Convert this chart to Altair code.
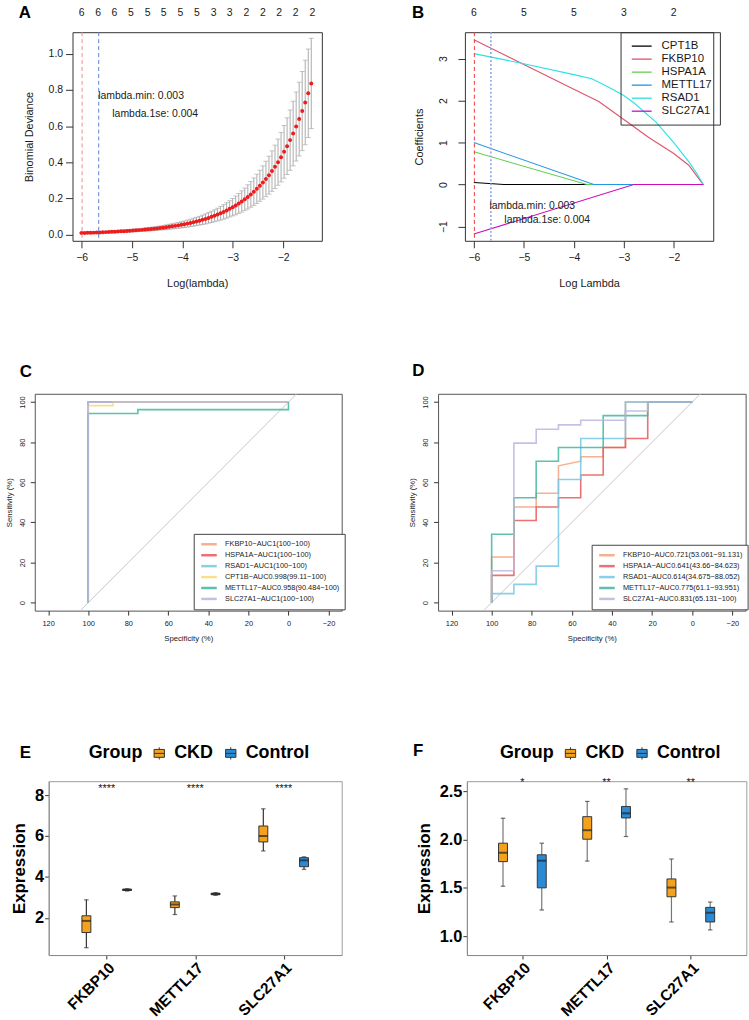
import altair as alt
import pandas as pd

FONT = "Liberation Sans"
INK = "#1a1a1a"

# ---------------- Panel A: cross-validated binomial deviance ----------------
cv_log_lambda = [
    -6.00, -5.94, -5.88, -5.82, -5.76, -5.70, -5.64, -5.58, -5.52, -5.46,
    -5.40, -5.34, -5.28, -5.22, -5.16, -5.10, -5.04, -4.98, -4.92, -4.86,
    -4.80, -4.74, -4.68, -4.62, -4.56, -4.50, -4.44, -4.38, -4.32, -4.26,
    -4.20, -4.14, -4.08, -4.02, -3.96, -3.90, -3.84, -3.78, -3.72, -3.66,
    -3.60, -3.54, -3.48, -3.42, -3.36, -3.30, -3.24, -3.18, -3.12, -3.06,
    -3.00, -2.94, -2.88, -2.82, -2.76, -2.70, -2.64, -2.58, -2.52, -2.46,
    -2.40, -2.34, -2.28, -2.22, -2.16, -2.10, -2.04, -1.98, -1.92, -1.86,
    -1.80, -1.74, -1.68, -1.62, -1.56, -1.50, -1.44,
]
cv_deviance = [
    0.0080, 0.0086, 0.0091, 0.0097, 0.0103, 0.0110, 0.0116, 0.0124, 0.0131, 0.0139,
    0.0147, 0.0155, 0.0164, 0.0174, 0.0184, 0.0194, 0.0205, 0.0217, 0.0229, 0.0242,
    0.0256, 0.0271, 0.0286, 0.0302, 0.0320, 0.0338, 0.0358, 0.0379, 0.0401, 0.0425,
    0.0450, 0.0477, 0.0505, 0.0535, 0.0568, 0.0602, 0.0639, 0.0678, 0.0720, 0.0765,
    0.0812, 0.0863, 0.0918, 0.0976, 0.1038, 0.1104, 0.1175, 0.1251, 0.1332, 0.1419,
    0.1512, 0.1611, 0.1717, 0.1830, 0.1952, 0.2081, 0.2220, 0.2369, 0.2528, 0.2699,
    0.2881, 0.3076, 0.3286, 0.3510, 0.3749, 0.4005, 0.4280, 0.4575, 0.4891, 0.5225,
    0.5589, 0.5978, 0.6389, 0.6834, 0.7310, 0.7819, 0.8364,
]
cv_se = [
    0.003, 0.003, 0.003, 0.003, 0.003, 0.004, 0.004, 0.004, 0.004, 0.004,
    0.005, 0.005, 0.005, 0.006, 0.006, 0.006, 0.007, 0.007, 0.007, 0.008,
    0.008, 0.009, 0.009, 0.010, 0.010, 0.011, 0.011, 0.012, 0.013, 0.014,
    0.014, 0.015, 0.016, 0.017, 0.018, 0.019, 0.020, 0.022, 0.023, 0.024,
    0.026, 0.028, 0.029, 0.031, 0.033, 0.035, 0.038, 0.040, 0.043, 0.045,
    0.048, 0.052, 0.055, 0.059, 0.062, 0.067, 0.071, 0.076, 0.081, 0.086,
    0.092, 0.098, 0.105, 0.112, 0.120, 0.128, 0.137, 0.146, 0.157, 0.167,
    0.179, 0.191, 0.204, 0.219, 0.234, 0.245, 0.250,
]
a_count_pos = [-6.00, -5.67, -5.35, -5.02, -4.69, -4.37, -4.04, -3.71,
               -3.38, -3.06, -2.73, -2.40, -2.08, -1.75, -1.42]
a_counts = [6, 6, 6, 5, 5, 5, 5, 5, 3, 3, 2, 2, 2, 2, 2]
a_lambda_min, a_lambda_1se = -5.99, -5.66
a_note_text = ["lambda.min: 0.003", "lambda.1se: 0.004"]
a_note_x = [-5.67, -5.39]
a_note_y = [0.769, 0.667]

# ---------------- Panel B: LASSO coefficient paths ----------------
b_genes = ["CPT1B", "FKBP10", "HSPA1A", "METTL17", "RSAD1", "SLC27A1"]
b_colors = ["#000000", "#DF536B", "#61D04F", "#2297E6", "#28E2E5", "#CD0BBC"]
cpt1b_x = [-6.0, -5.4, -1.41]
cpt1b_coef = [0.05, 0.0, 0.0]
fkbp10_x = [-6.0, -5.0, -4.0, -3.5, -3.0, -2.5, -2.0, -1.7, -1.41]
fkbp10_coef = [3.45, 2.86, 2.27, 1.98, 1.55, 1.12, 0.74, 0.46, 0.0]
hspa1a_x = [-6.0, -3.74, -1.41]
hspa1a_coef = [0.78, 0.0, 0.0]
mettl17_x = [-6.0, -3.6, -1.41]
mettl17_coef = [1.0, 0.0, 0.0]
rsad1_x = [-6.0, -5.0, -4.0, -3.64, -3.3, -3.0, -2.8, -2.35, -2.0, -1.69, -1.53, -1.41]
rsad1_coef = [3.12, 2.88, 2.62, 2.52, 2.32, 2.12, 1.95, 1.48, 1.0, 0.53, 0.25, 0.0]
slc27a1_x = [-6.0, -2.8, -1.41]
slc27a1_coef = [-1.18, 0.0, 0.0]
b_count_pos = [-6, -5, -4, -3, -2]
b_counts = [6, 5, 5, 3, 2]
b_note_x = [-5.69, -5.39]
b_note_y = [-0.51, -0.85]

# ---------------- Panels C/D: ROC curves ----------------
roc_color_genes = ["FKBP10", "HSPA1A", "RSAD1", "CPT1B", "METTL17", "SLC27A1"]
roc_colors = ["#F3A37E", "#E8585A", "#74C7E5", "#F8D977", "#3FB79C", "#BBB6DF"]

c_genes = ["FKBP10", "HSPA1A", "RSAD1", "CPT1B", "METTL17", "SLC27A1"]
c_labels = ["FKBP10−AUC1(100−100)", "HSPA1A−AUC1(100−100)", "RSAD1−AUC1(100−100)",
            "CPT1B−AUC0.998(99.11−100)", "METTL17−AUC0.958(90.484−100)",
            "SLC27A1−AUC1(100−100)"]
c_fkbp10_spec = [100, 100, 0]
c_fkbp10_sens = [0, 100, 100]
c_hspa1a_spec = [100, 100, 0]
c_hspa1a_sens = [0, 100, 100]
c_rsad1_spec = [100, 100, 0]
c_rsad1_sens = [0, 100, 100]
c_cpt1b_spec = [100, 100, 87.6, 87.6, 0]
c_cpt1b_sens = [0, 98.2, 98.2, 100, 100]
c_mettl17_spec = [100, 100, 75.2, 75.2, 0, 0]
c_mettl17_sens = [0, 94.3, 94.3, 96.2, 96.2, 100]
c_slc27a1_spec = [100, 100, 0]
c_slc27a1_sens = [0, 100, 100]

d_genes = ["FKBP10", "HSPA1A", "RSAD1", "METTL17", "SLC27A1"]
d_labels = ["FKBP10−AUC0.721(53.061−91.131)", "HSPA1A−AUC0.641(43.66−84.623)",
            "RSAD1−AUC0.614(34.675−88.052)", "METTL17−AUC0.775(61.1−93.951)",
            "SLC27A1−AUC0.831(65.131−100)"]
d_fkbp10_spec = [100, 100, 88.9, 88.9, 77.8, 77.8, 66.7, 66.7, 55.6, 55.6, 44.4, 44.4, 33.3, 33.3, 0]
d_fkbp10_sens = [0, 22.7, 22.7, 47.7, 47.7, 54.5, 54.5, 68.2, 70.5, 72.7, 72.7, 77.3, 77.3, 100, 100]
d_hspa1a_spec = [100, 100, 88.9, 88.9, 77.8, 77.8, 66.7, 66.7, 55.6, 55.6, 44.4, 44.4, 33.3, 33.3, 22.2, 22.2, 0]
d_hspa1a_sens = [0, 13.6, 13.6, 40.9, 40.9, 47.7, 47.7, 52.3, 52.3, 63.6, 63.6, 77.3, 77.3, 81.8, 81.8, 100, 100]
d_rsad1_spec = [100, 100, 88.9, 88.9, 77.8, 77.8, 66.7, 66.7, 55.6, 55.6, 33.3, 33.3, 0]
d_rsad1_sens = [0, 4.5, 4.5, 9.1, 9.1, 18.2, 18.2, 61.4, 61.4, 81.8, 81.8, 100, 100]
d_mettl17_spec = [100, 100, 88.9, 88.9, 77.8, 77.8, 66.7, 66.7, 44.4, 44.4, 22.2, 22.2, 0]
d_mettl17_sens = [0, 34.1, 34.1, 52.3, 52.3, 70.5, 70.5, 77.3, 77.3, 93.2, 93.2, 100, 100]
d_slc27a1_spec = [100, 100, 88.9, 88.9, 77.8, 77.8, 66.7, 66.7, 55.6, 55.6, 33.3, 33.3, 22.2, 22.2, 0]
d_slc27a1_sens = [0, 15.9, 15.9, 79.5, 79.5, 86.4, 86.4, 88.6, 88.6, 90.9, 90.9, 95.5, 95.5, 100, 100]
roc_diag_spec = [110, -10]
roc_diag_sens = [-10, 110]

# ---------------- Panels E/F: expression box plots ----------------
box_genes = ["FKBP10", "METTL17", "SLC27A1"]
box_groups = ["CKD", "Control"]
box_colors = ["#F4A21D", "#2A8BD4"]
# whisker low, Q1, median, Q3, whisker high (one value per gene)
e_ckd_low = [0.54, 2.16, 5.27]
e_ckd_q1 = [1.28, 2.50, 5.71]
e_ckd_med = [1.85, 2.65, 6.00]
e_ckd_q3 = [2.10, 2.78, 6.49]
e_ckd_high = [2.88, 3.07, 7.33]
e_ctl_low = [3.31, 3.10, 4.37]
e_ctl_q1 = [3.34, 3.13, 4.50]
e_ctl_med = [3.37, 3.17, 4.81]
e_ctl_q3 = [3.40, 3.20, 4.94]
e_ctl_high = [3.42, 3.23, 4.98]
e_signif = ["****", "****", "****"]
e_signif_y = 8.28

f_ckd_low = [1.517, 1.777, 1.147]
f_ckd_q1 = [1.771, 2.003, 1.408]
f_ckd_med = [1.863, 2.096, 1.503]
f_ckd_q3 = [1.962, 2.236, 1.592]
f_ckd_high = [2.220, 2.394, 1.798]
f_ctl_low = [1.271, 2.031, 1.065]
f_ctl_q1 = [1.500, 2.223, 1.147]
f_ctl_med = [1.781, 2.271, 1.243]
f_ctl_q3 = [1.842, 2.342, 1.298]
f_ctl_high = [1.962, 2.524, 1.353]
f_signif = ["*", "**", "**"]
f_signif_y = 2.58


# ---------------- helpers ----------------
ONE = pd.DataFrame({"t": ["."]})


def letter(text, x, y):
    """Bold panel tag placed relative to the panel's plot area."""
    return alt.Chart(pd.DataFrame({"t": [text]})).mark_text(
        align="left", baseline="alphabetic", font=FONT, fontSize=17,
        fontWeight="bold", color="#000000").encode(
        x=alt.value(x), y=alt.value(y), text="t:N")


def anchor(y, baseline):
    """Invisible 1px text that pins a row's vertical extent."""
    return alt.Chart(ONE).mark_text(opacity=0, fontSize=1, baseline=baseline).encode(
        x=alt.value(0), y=alt.value(y), text="t:N")


def r_axis(title, values, label_size, title_size, tick, label_pad, title_pad,
           fmt=None, rotate=False):
    kw = dict(title=title, values=values, grid=False, domain=False, ticks=True,
              tickSize=tick, tickColor="#333333", tickWidth=1,
              labelFont=FONT, labelFontSize=label_size, labelColor=INK,
              labelPadding=label_pad, titleFont=FONT, titleFontSize=title_size,
              titleFontWeight="normal", titleColor=INK, titlePadding=title_pad)
    if fmt:
        kw["format"] = fmt
    if rotate:
        kw.update(labelAngle=-90, labelAlign="center", labelBaseline="bottom")
    else:
        kw.update(labelAngle=0)
    return alt.Axis(**kw)


def path_frame(genes, xs, ys, xname, yname):
    rows = []
    for g, xv, yv in zip(genes, xs, ys):
        for i, (a, b) in enumerate(zip(xv, yv)):
            rows.append({"gene": g, xname: a, yname: b, "step": i})
    return pd.DataFrame(rows)


def spacer(w, h=1):
    return (alt.Chart(ONE)
            .mark_point(opacity=0)
            .encode(x=alt.value(0), y=alt.value(0))
            .properties(width=w, height=h,
                        view=alt.ViewBackground(stroke="transparent", strokeWidth=0)))


FRAME_R = alt.ViewBackground(stroke="#333333", strokeWidth=1)

# ---------------- A ----------------
a_x_axis = r_axis("Log(lambda)", [-6, -5, -4, -3, -2], 10.5, 11, 7, 5, 14)
a_y_axis = r_axis("Binomial Deviance", [0, 0.2, 0.4, 0.6, 0.8, 1.0], 10.5, 11, 7, 3, 14, fmt=".1f")
a_xs = alt.Scale(domain=[-6.18, -1.23], nice=False, zero=False)
a_ys = alt.Scale(domain=[-0.035, 1.12], nice=False, zero=False)


def ax(field="loglam"):
    return alt.X(f"{field}:Q", scale=a_xs, axis=a_x_axis)


def ay(field):
    return alt.Y(f"{field}:Q", scale=a_ys, axis=a_y_axis)


cv_df = pd.DataFrame({"loglam": cv_log_lambda, "dev": cv_deviance, "se": cv_se})
cv_base = alt.Chart(cv_df).transform_calculate(
    lo="datum.dev - datum.se", hi="datum.dev + datum.se")
a_bars = cv_base.mark_rule(color="#ABABAB", strokeWidth=1).encode(x=ax(), y=ay("lo"), y2="hi:Q")
a_cap_lo = cv_base.mark_tick(orient="horizontal", size=5, thickness=1, color="#ABABAB").encode(x=ax(), y=ay("lo"))
a_cap_hi = cv_base.mark_tick(orient="horizontal", size=5, thickness=1, color="#ABABAB").encode(x=ax(), y=ay("hi"))
a_pts = alt.Chart(cv_df).mark_circle(size=16, color="#EE1C1C", opacity=1).encode(x=ax(), y=ay("dev"))
a_vmin = alt.Chart(pd.DataFrame({"loglam": [a_lambda_min]})).mark_rule(
    color="#F08C8C", strokeDash=[4, 3], strokeWidth=1).encode(x=ax())
a_v1se = alt.Chart(pd.DataFrame({"loglam": [a_lambda_1se]})).mark_rule(
    color="#5B84D6", strokeDash=[4, 3], strokeWidth=1).encode(x=ax())
a_notes = alt.Chart(pd.DataFrame({"loglam": a_note_x, "y": a_note_y, "t": a_note_text})).mark_text(
    align="left", baseline="middle", font=FONT, fontSize=10.5, color=INK).encode(x=ax(), y=ay("y"), text="t:N")
a_top = alt.Chart(pd.DataFrame({"loglam": a_count_pos, "n": a_counts})).mark_text(
    baseline="middle", font=FONT, fontSize=10.5, color=INK).encode(x=ax(), y=alt.value(-19.5), text="n:N")
chart_a = alt.layer(a_bars, a_cap_lo, a_cap_hi, a_pts, a_vmin, a_v1se, a_notes, a_top,
                    letter("A", -54, -14), anchor(-24.5, "top"), anchor(326.9, "bottom")).properties(
    width=251, height=210, view=FRAME_R)

# ---------------- B ----------------
b_x_axis = r_axis("Log Lambda", [-6, -5, -4, -3, -2], 10.5, 11, 7, 5, 14)
b_y_axis = r_axis("Coefficients", [-1, 0, 1, 2, 3], 10.5, 11, 7, 10, 14, rotate=True)
b_xs = alt.Scale(domain=[-6.18, -1.21], nice=False, zero=False)
b_ys = alt.Scale(domain=[-1.34, 3.63], nice=False, zero=False)
b_color = alt.Scale(domain=b_genes, range=b_colors)
b_legend = alt.Legend(title=None, orient="none", legendX=156.7, legendY=0, direction="vertical",
                      symbolType="M-2,0H2", symbolSize=100, symbolStrokeWidth=1.3,
                      labelFont=FONT, labelFontSize=11.5, labelColor=INK, labelOffset=14,
                      symbolOffset=7.3, padding=8, rowPadding=1.1, strokeColor="#333333")


def bx(field="loglam"):
    return alt.X(f"{field}:Q", scale=b_xs, axis=b_x_axis)


def by(field):
    return alt.Y(f"{field}:Q", scale=b_ys, axis=b_y_axis)


b_df = path_frame(b_genes,
                  [cpt1b_x, fkbp10_x, hspa1a_x, mettl17_x, rsad1_x, slc27a1_x],
                  [cpt1b_coef, fkbp10_coef, hspa1a_coef, mettl17_coef, rsad1_coef, slc27a1_coef],
                  "loglam", "coef")
b_lines = [
    alt.Chart(b_df).transform_filter(alt.datum.gene == g).mark_line(strokeWidth=1.1).encode(
        x=bx(), y=by("coef"), order="step:Q",
        color=alt.Color("gene:N", scale=b_color, legend=b_legend))
    for g in b_genes
]
b_vmin = alt.Chart(pd.DataFrame({"loglam": [-5.99]})).mark_rule(
    color="#EE3B3B", strokeDash=[4, 3], strokeWidth=1).encode(x=bx())
b_v1se = alt.Chart(pd.DataFrame({"loglam": [-5.66]})).mark_rule(
    color="#8FA6E6", strokeDash=[2, 2], strokeWidth=1.6).encode(x=bx())
b_notes = alt.Chart(pd.DataFrame({"loglam": b_note_x, "y": b_note_y, "t": a_note_text})).mark_text(
    align="left", baseline="middle", font=FONT, fontSize=10.5, color=INK).encode(x=bx(), y=by("y"), text="t:N")
b_top = alt.Chart(pd.DataFrame({"loglam": b_count_pos, "n": b_counts})).mark_text(
    baseline="middle", font=FONT, fontSize=10.5, color=INK).encode(x=bx(), y=alt.value(-19.2), text="n:N")
chart_b = alt.layer(*b_lines, b_vmin, b_v1se, b_notes, b_top, letter("B", -53.3, -14)).properties(
    width=250, height=210, view=FRAME_R)

# ---------------- C / D ----------------
roc_x_axis = r_axis("Specificity (%)", [120, 100, 80, 60, 40, 20, 0, -20], 7.5, 7.8, 4.5, 4, 8)
roc_y_axis = r_axis("Sensitivity (%)", [0, 20, 40, 60, 80, 100], 7.5, 7.8, 4.5, 4, 5, rotate=True)
roc_xs = alt.Scale(domain=[-26.6, 126.7], reverse=True, nice=False, zero=False)
roc_ys = alt.Scale(domain=[-4.0, 104.1], nice=False, zero=False)
FRAME_ROC = alt.ViewBackground(stroke="#555555", strokeWidth=1)


def roc_chart(genes, labels, specs, senss, legend_x, legend_y, width, extra):
    label_of = dict(zip(genes, labels))
    legend_labels = [label_of[g] for g in genes]
    colour_of = dict(zip(roc_color_genes, roc_colors))
    cscale = alt.Scale(domain=legend_labels, range=[colour_of[g] for g in genes])
    legend = alt.Legend(title=None, orient="none", legendX=legend_x, legendY=legend_y,
                        direction="vertical", symbolType="M-2,0H2", symbolSize=61,
                        symbolStrokeWidth=2.5, labelFont=FONT, labelFontSize=7.4,
                        labelColor=INK, labelOffset=10.6, symbolOffset=4.9, padding=5,
                        rowPadding=0, strokeColor="#444444", fillColor="white")
    df = path_frame(legend_labels, specs, senss, "spec", "sens")
    rx = alt.X("spec:Q", scale=roc_xs, axis=roc_x_axis)
    ry = alt.Y("sens:Q", scale=roc_ys, axis=roc_y_axis)
    diag = alt.Chart(pd.DataFrame({"spec": roc_diag_spec, "sens": roc_diag_sens, "step": [0, 1]})).mark_line(
        color="#C8C8C8", strokeWidth=1, clip=True).encode(x=rx, y=ry, order="step:Q")
    curves = [
        alt.Chart(df).transform_filter(alt.datum.gene == lab).mark_line(
            strokeWidth=1.6, opacity=0.85).encode(
            x=rx, y=ry, order="step:Q",
            color=alt.Color("gene:N", scale=cscale, legend=legend))
        for lab in legend_labels
    ]
    return alt.layer(diag, *curves, *extra).properties(width=width, height=218.3, view=FRAME_ROC)


chart_c = roc_chart(c_genes, c_labels,
                    [c_fkbp10_spec, c_hspa1a_spec, c_rsad1_spec, c_cpt1b_spec, c_mettl17_spec, c_slc27a1_spec],
                    [c_fkbp10_sens, c_hspa1a_sens, c_rsad1_sens, c_cpt1b_sens, c_mettl17_sens, c_slc27a1_sens],
                    160, 141, 309,
                    [letter("C", -15, -17.4), anchor(-35, "top"), anchor(343.5, "bottom")])
chart_d = roc_chart(d_genes, d_labels,
                    [d_fkbp10_spec, d_hspa1a_spec, d_rsad1_spec, d_mettl17_spec, d_slc27a1_spec],
                    [d_fkbp10_sens, d_hspa1a_sens, d_rsad1_sens, d_mettl17_sens, d_slc27a1_sens],
                    154.6, 152, 309.6, [letter("D", -26, -18)])

# ---------------- E / F ----------------
BOX_GLYPH = "M-0.85,-0.65H0.85V0.65H-0.85Z M-0.85,0H0.85 M0,-0.65V-1 M0,0.65V1"
label_expr = " : ".join(
    f"datum.value == {i + 1} ? '{g}'" for i, g in enumerate(box_genes[:-1])) + f" : '{box_genes[-1]}'"


def box_frame(ckd, ctl):
    rows = []
    for i, g in enumerate(box_genes):
        for grp, stats, off in (("CKD", ckd, -0.23), ("Control", ctl, 0.23)):
            low, q1, med, q3, high = (s[i] for s in stats)
            rows.append(dict(gene=g, group=grp, pos=i + 1 + off,
                             low=low, q1=q1, med=med, q3=q3, high=high))
    return pd.DataFrame(rows)


def box_chart(df, signif, signif_y, y_domain, y_values, y_fmt, whisker, legend_x, width, height, extra):
    gx_axis = alt.Axis(values=[1, 2, 3], labelExpr=label_expr, title=None, grid=False,
                       domainColor="#8a8a8a", tickColor="#333333", tickSize=4,
                       labelFont=FONT, labelFontSize=15.5, labelFontWeight="bold",
                       labelColor="#000000", labelAngle=-45, labelAlign="right",
                       labelBaseline="top", labelPadding=1)
    gy_axis = alt.Axis(values=y_values, format=y_fmt, title="Expression", grid=False,
                       domainColor="#8a8a8a", tickColor="#333333", tickSize=4,
                       labelFont=FONT, labelFontSize=16.5, labelFontWeight="bold",
                       labelColor="#000000", labelPadding=1, titleFont=FONT,
                       titleFontSize=17, titleFontWeight="bold", titleColor="#000000",
                       titlePadding=6)
    gxs = alt.Scale(domain=[0.4, 3.6], nice=False, zero=False)
    gys = alt.Scale(domain=y_domain, nice=False, zero=False)

    def gx(field="pos"):
        return alt.X(f"{field}:Q", scale=gxs, axis=gx_axis)

    def gy(field):
        return alt.Y(f"{field}:Q", scale=gys, axis=gy_axis)

    legend = alt.Legend(title="Group", orient="none", legendX=legend_x, legendY=-37,
                        direction="horizontal", titleOrient="left", titleFont=FONT,
                        titleFontSize=18, titleFontWeight="bold", titleColor="#000000",
                        titlePadding=8, labelFont=FONT, labelFontSize=18,
                        labelFontWeight="bold", labelColor="#000000", labelOffset=6,
                        columnPadding=9, symbolType=BOX_GLYPH, symbolSize=150,
                        symbolStrokeColor="#333333", symbolStrokeWidth=1)
    base = alt.Chart(df)
    w_lo = base.mark_rule(color=whisker, strokeWidth=1.2).encode(x=gx(), y=gy("low"), y2="q1:Q")
    w_hi = base.mark_rule(color=whisker, strokeWidth=1.2).encode(x=gx(), y=gy("q3"), y2="high:Q")
    c_lo = base.mark_tick(orient="horizontal", size=4.5, thickness=1.2, color="#333333").encode(x=gx(), y=gy("low"))
    c_hi = base.mark_tick(orient="horizontal", size=4.5, thickness=1.2, color="#333333").encode(x=gx(), y=gy("high"))
    boxes = base.mark_bar(size=9, stroke="#333333", strokeWidth=1).encode(
        x=gx(), y=gy("q1"), y2="q3:Q",
        color=alt.Color("group:N", scale=alt.Scale(domain=box_groups, range=box_colors), legend=legend))
    meds = base.mark_tick(orient="horizontal", size=9, thickness=2, color="#222222").encode(x=gx(), y=gy("med"))
    sig = alt.Chart(pd.DataFrame({"pos": [1, 2, 3], "y": [signif_y] * 3, "t": signif})).mark_text(
        font=FONT, fontSize=11, color=INK, baseline="middle").encode(x=gx(), y=gy("y"), text="t:N")
    return alt.layer(w_lo, w_hi, c_lo, c_hi, boxes, meds, sig, *extra).properties(
        width=width, height=height, view=alt.ViewBackground(stroke="#9c9c9c", strokeWidth=1))


e_df = box_frame([e_ckd_low, e_ckd_q1, e_ckd_med, e_ckd_q3, e_ckd_high],
                 [e_ctl_low, e_ctl_q1, e_ctl_med, e_ctl_q3, e_ctl_high])
f_df = box_frame([f_ckd_low, f_ckd_q1, f_ckd_med, f_ckd_q3, f_ckd_high],
                 [f_ctl_low, f_ctl_q1, f_ctl_med, f_ctl_q3, f_ctl_high])
chart_e = box_chart(e_df, e_signif, e_signif_y, [0.18, 8.68], [2, 4, 6, 8], "d", "#333333",
                    40.3, 295, 175, [letter("E", -29, -23.3), anchor(-45, "top")])
chart_f = box_chart(f_df, f_signif, f_signif_y, [0.805, 2.603], [1.0, 1.5, 2.0, 2.5], ".1f", "#777777",
                    33.3, 281.3, 175, [letter("F", -54.3, -25)])

# ---------------- assemble: rows of flush-packed plot areas ----------------
row1 = alt.hconcat(spacer(70), chart_a, spacer(144), chart_b,
                   spacing=0, bounds="flush").resolve_scale(color="independent")
row2 = alt.hconcat(spacer(31.7), chart_c, spacer(97), chart_d,
                   spacing=0, bounds="flush").resolve_scale(color="independent")
row3 = alt.hconcat(spacer(45.7), chart_e, spacer(125.3), chart_f,
                   spacing=0, bounds="flush").resolve_scale(color="independent")

chart = alt.vconcat(row1, row2, row3, spacing=0).resolve_scale(
    color="independent"
).properties(padding=0).configure(background="white", font=FONT).configure_view(stroke="transparent")

chart.save("out.html", embed_options={"renderer": "svg", "actions": False})
